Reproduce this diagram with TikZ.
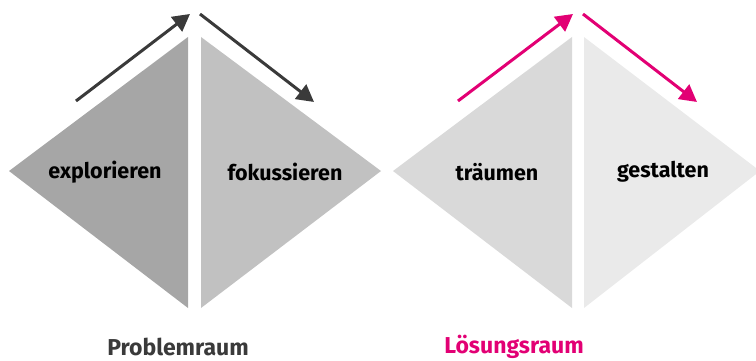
\documentclass[tikz,border=0pt]{standalone}
\usepackage{fontspec}
\setmainfont{Fira Sans}
\usetikzlibrary{arrows.meta}
\definecolor{tri1}{HTML}{A6A6A6}
\definecolor{tri2}{HTML}{C1C1C1}
\definecolor{tri3}{HTML}{D9D9D9}
\definecolor{tri4}{HTML}{EAEAEA}
\definecolor{darkarrow}{HTML}{3A3A3A}
\definecolor{magenta}{HTML}{E20074}
\tikzset{
  flow/.style={line width=3pt, -{Triangle[length=17pt,width=18pt]}},
  lbl/.style={font=\fontsize{21.5}{25}\selectfont\bfseries, text=black},
  title/.style={font=\fontsize{23}{28}\selectfont\bfseries},
}
\begin{document}
\begin{tikzpicture}[x=1pt,y=-1pt]
\useasboundingbox (0,0) rectangle (756,361);
% triangles
\fill[tri1] (9,171) -- (188,37) -- (188,308) -- cycle;
\fill[tri2] (201,37) -- (381,171) -- (201,308) -- cycle;
\fill[tri3] (393,171) -- (572,37) -- (572,308) -- cycle;
\fill[tri4] (584,37) -- (760,171) -- (584,308) -- cycle;
% labels
\node[lbl] (explo) at (105,172) {explorieren};
\node[lbl] (fokus) at (285,172) {fokussieren};
\node[lbl] (traum) at (497,172) {träumen};
\node[lbl] (gestalt) at (663,172) {gestalten};
\node[title, text=darkarrow] (prob) at (178,347) {Problemraum};
\node[title, text=magenta] (loes) at (514,347) {Lösungsraum};
% arrows
\coordinate (a1s) at (76,101);
\coordinate (a1e) at (190,14);
\coordinate (a2s) at (200,14);
\coordinate (a2e) at (314,102);
\coordinate (b1s) at (458,101);
\coordinate (b1e) at (573,14);
\coordinate (b2s) at (583,14);
\coordinate (b2e) at (697,102);
\draw[flow, darkarrow] (a1s) -- (a1e);
\draw[flow, darkarrow] (a2s) -- (a2e);
\draw[flow, magenta] (b1s) -- (b1e);
\draw[flow, magenta] (b2s) -- (b2e);
\end{tikzpicture}
\end{document}
